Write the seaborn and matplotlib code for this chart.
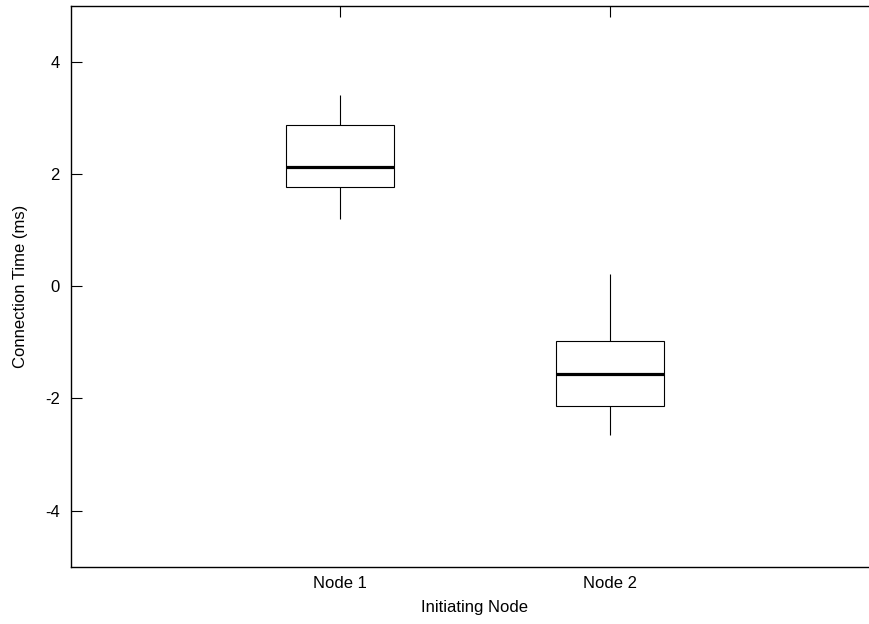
import pandas as pd
import matplotlib
matplotlib.use("Agg")
import matplotlib.pyplot as plt
import seaborn as sns

# five-number summaries (min, q1, median, q3, max)
nodes = ["Node 1", "Node 2"]
node1_times = [1.19, 1.76, 2.12, 2.88, 3.40]
node2_times = [-2.66, -2.14, -1.57, -0.98, 0.22]

df = pd.DataFrame({
    "node": ["Node 1"] * len(node1_times) + ["Node 2"] * len(node2_times),
    "time": node1_times + node2_times,
})

sns.set_style("white")
plt.rcParams["font.family"] = ["Liberation Sans", "DejaVu Sans"]
plt.rcParams["text.color"] = "black"
plt.rcParams["axes.labelcolor"] = "black"

fig = plt.figure(figsize=(8.69, 6.24), dpi=100)
# right edge of the frame falls outside the image, as in the original
ax = fig.add_axes([71 / 869, (624 - 566.7) / 624, 808 / 869, 561 / 624])

sns.boxplot(data=df, x="node", y="time", order=nodes, ax=ax,
            width=0.4, whis=(0, 100), showcaps=False, fill=True,
            color="white", linecolor="black", linewidth=0.8,
            medianprops={"linewidth": 2.3, "color": "black"})

ax.set_xlim(-1, 2)
ax.set_ylim(-5, 5)
ax.set_yticks([-4, -2, 0, 2, 4])
ax.set_yticklabels(["-4", "-2", "0", "2", "4"])

for side in ["left", "bottom", "top", "right"]:
    ax.spines[side].set_color("black")
    ax.spines[side].set_linewidth(1.0)

ax.tick_params(axis="both", direction="in", length=8, width=0.8,
               colors="black", labelsize=12, pad=8)
ax.tick_params(axis="x", top=True, pad=7)
ax.tick_params(axis="y", left=True, right=False)

ax.set_xlabel("Initiating Node", fontsize=12, labelpad=6, color="black")
ax.set_ylabel("Connection Time (ms)", fontsize=12, labelpad=12, color="black")

fig.savefig("out.png", dpi=100)
